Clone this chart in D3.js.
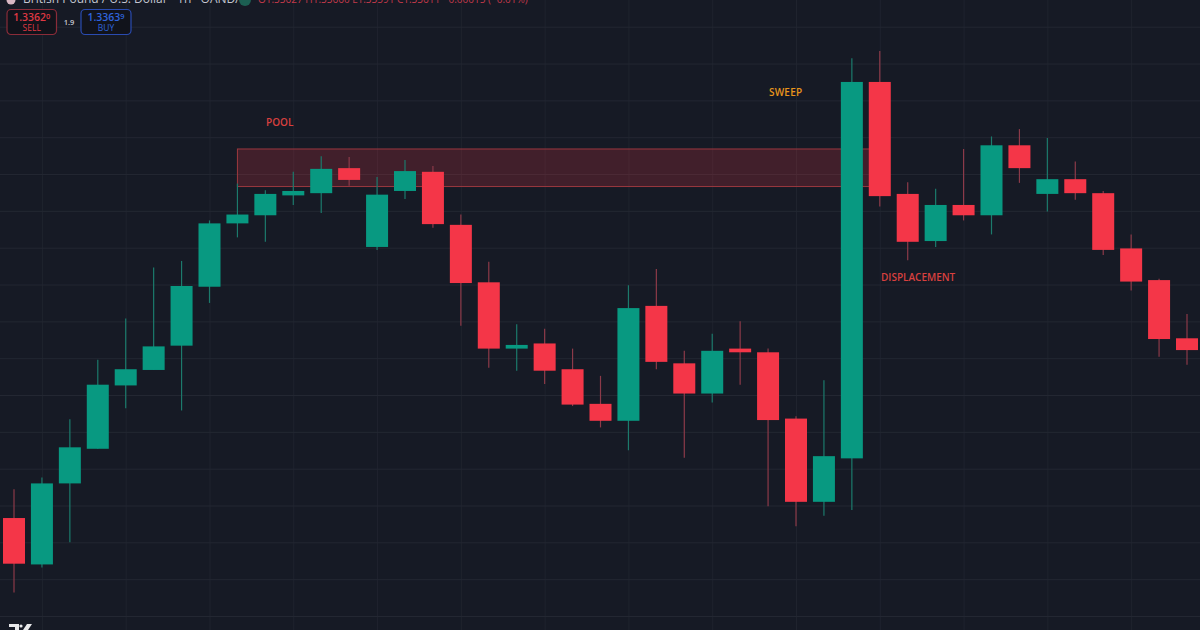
<!DOCTYPE html>
<html>
<head>
<meta charset="utf-8">
<script src="https://cdn.jsdelivr.net/npm/d3@7"></script>
<style>
  html, body { margin: 0; padding: 0; background: #161a25; overflow: hidden; }
  svg { display: block; }
  text { font-family: "Open Sans", "Noto Sans", sans-serif; }
</style>
</head>
<body>
<div id="chart"></div>
<script>
////////////////////////// Data //////////////////////////
var opens = [1.33383,1.33320,1.33430,1.33477,1.33563,1.33584,1.33617,1.33697,1.33783,1.33794,1.33821,
	1.33824,1.33858,1.33751,1.33827,1.33853,1.33781,1.33703,1.33613,1.33620,1.33585,1.33538,
	1.33515,1.33671,1.33593,1.33552,1.33613,1.33608,1.33518,1.33405,1.33464,1.33975,1.33823,
	1.33759,1.33808,1.33794,1.33889,1.33823,1.33843,1.33824,1.33749,1.33706,1.33627];
var highs = [1.33422,1.33438,1.33517,1.33598,1.33654,1.33723,1.33732,1.33787,1.33837,1.33828,1.33853,
	1.33874,1.33873,1.33846,1.33869,1.33861,1.33795,1.33731,1.33646,1.33640,1.33613,1.33576,
	1.33699,1.33721,1.33610,1.33633,1.33650,1.33613,1.33521,1.33570,1.34007,1.34017,1.33839,
	1.33830,1.33884,1.33901,1.33911,1.33899,1.33867,1.33827,1.33768,1.33708,1.33660];
var lows = [1.33282,1.33316,1.33350,1.33477,1.33532,1.33584,1.33529,1.33675,1.33764,1.33758,1.33808,
	1.33797,1.33834,1.33747,1.33816,1.33777,1.33644,1.33587,1.33583,1.33565,1.33535,1.33506,
	1.33475,1.33585,1.33465,1.33540,1.33564,1.33399,1.33372,1.33386,1.33394,1.33806,1.33733,
	1.33751,1.33787,1.33768,1.33838,1.33799,1.33815,1.33740,1.33692,1.33602,1.33591];
var closes = [1.33321,1.33430,1.33479,1.33564,1.33585,1.33616,1.33698,1.33783,1.33795,1.33823,1.33827,
	1.33857,1.33842,1.33822,1.33854,1.33782,1.33702,1.33613,1.33618,1.33583,1.33537,1.33515,
	1.33668,1.33595,1.33552,1.33610,1.33608,1.33516,1.33405,1.33467,1.33975,1.33820,1.33758,
	1.33808,1.33794,1.33889,1.33858,1.33843,1.33824,1.33747,1.33704,1.33626,1.33611];

var priceTicks = [1.3405,1.3400,1.3395,1.3390,1.3385,1.3380,1.3375,1.3370,1.3365,1.3360,1.3355,
	1.3350,1.3345,1.3340,1.3335,1.3330,1.3325];
var timeTicks = [1,4,7,10,13,16,19,22,25,28,31,34,37,40];

var poolTop = 1.33884,
	poolBottom = 1.33833,
	poolStart = 8,
	poolEnd = 31;

var symbolName = "British Pound / U.S. Dollar · 1h · OANDA";
var sellPrice = ["1.3362", "0"],
	buyPrice = ["1.3363", "9"],
	spread = "1.9";

////////////////////////// Setup //////////////////////////
var width = 1200,
	height = 630,
	bodyWidth = 22,
	green = "#089981",
	red = "#f43648",
	greenWick = "#1c7a6c",
	redWick = "#8c3a49";

var svg = d3.select("#chart").append("svg")
	.attr("width", width)
	.attr("height", height);

svg.append("rect")
	.attr("width", width)
	.attr("height", height)
	.attr("fill", "#161a25");

var x = d3.scaleLinear().domain([0, 42]).range([14, 1187]);
var y = d3.scaleLinear().domain([1.3325, 1.3405]).range([616, 26.7]);

////////////////////////// Grid //////////////////////////
var xAxis = d3.axisBottom(x).tickValues(timeTicks).tickSize(height).tickFormat("");
var yAxis = d3.axisRight(y).tickValues(priceTicks).tickSize(width).tickFormat("");

var gridX = svg.append("g").call(xAxis);
gridX.select(".domain").remove();
gridX.selectAll("line").attr("stroke", "#1f232e").attr("stroke-width", 1);

var gridY = svg.append("g").call(yAxis);
gridY.select(".domain").remove();
gridY.selectAll("line").attr("stroke", "#232732").attr("stroke-width", 1);

////////////////////////// Pool zone //////////////////////////
svg.append("rect")
	.attr("x", x(poolStart))
	.attr("y", y(poolTop))
	.attr("width", x(poolEnd) - x(poolStart))
	.attr("height", y(poolBottom) - y(poolTop))
	.attr("fill", "#f23645")
	.attr("fill-opacity", 0.2)
	.attr("stroke", "#9c383f")
	.attr("stroke-width", 1);

////////////////////////// Candles //////////////////////////
var candles = opens.map(function(o, i) {
	return {i: i, open: o, high: highs[i], low: lows[i], close: closes[i], up: closes[i] >= o};
});

var candle = svg.append("g").selectAll("g")
	.data(candles).enter().append("g");

candle.append("line")
	.attr("x1", function(d) { return x(d.i); })
	.attr("x2", function(d) { return x(d.i); })
	.attr("y1", function(d) { return y(d.high); })
	.attr("y2", function(d) { return y(d.low); })
	.attr("stroke", function(d) { return d.up ? greenWick : redWick; })
	.attr("stroke-width", 1.2);

candle.append("rect")
	.attr("x", function(d) { return x(d.i) - bodyWidth / 2; })
	.attr("y", function(d) { return y(Math.max(d.open, d.close)); })
	.attr("width", bodyWidth)
	.attr("height", function(d) { return Math.abs(y(d.open) - y(d.close)); })
	.attr("fill", function(d) { return d.up ? green : red; });

////////////////////////// Labels //////////////////////////
function label(txt, px, py, color, spacing) {
	svg.append("text")
		.attr("x", px)
		.attr("y", py)
		.attr("fill", color)
		.attr("font-size", 10)
		.attr("font-weight", 600)
		.attr("letter-spacing", spacing)
		.text(txt);
}
label("POOL", 266, 126, "#d8403f", 0);
label("SWEEP", 769, 96, "#e8951c", 0.2);
label("DISPLACEMENT", 881, 281, "#d8403f", 0);

////////////////////////// Header //////////////////////////
svg.append("circle").attr("cx", 11).attr("cy", 0).attr("r", 4.5).attr("fill", "#d9b8c4");

svg.append("text")
	.attr("x", 23)
	.attr("y", 3)
	.attr("fill", "#c4c7d0")
	.attr("font-size", 12)
	.text(symbolName);

svg.append("circle").attr("cx", 245).attr("cy", 0).attr("r", 6).attr("fill", "#1c5f52");

// last bar values
var last = candles[candles.length - 1],
	prev = candles[candles.length - 2],
	fmt = d3.format(".5f"),
	change = last.close - prev.close;

svg.append("text")
	.attr("x", 258)
	.attr("y", 3)
	.attr("fill", "#c2394a")
	.attr("font-size", 10)
	.text("O" + fmt(last.open) + " H" + fmt(last.high) + " L" + fmt(last.low) + " C" + fmt(last.close) +
		" " + fmt(change).replace("-", "−") + " (" + d3.format(".2f")(change / prev.close * 100).replace("-", "−") + "%)");

function tradeButton(px, w, price, caption, stroke, color) {
	var g = svg.append("g");
	g.append("rect")
		.attr("x", px)
		.attr("y", 9.5)
		.attr("width", w)
		.attr("height", 25)
		.attr("rx", 4)
		.attr("fill", "#11131b")
		.attr("stroke", stroke)
		.attr("stroke-width", 1.2);
	var t = g.append("text")
		.attr("x", px + w / 2)
		.attr("y", 21)
		.attr("text-anchor", "middle")
		.attr("fill", color)
		.attr("font-size", 10.5)
		.attr("font-weight", 600);
	t.append("tspan").text(price[0]);
	t.append("tspan").attr("font-size", 7.5).attr("dy", -2).text(price[1]);
	g.append("text")
		.attr("x", px + w / 2)
		.attr("y", 31)
		.attr("text-anchor", "middle")
		.attr("fill", color)
		.attr("font-size", 8.5)
		.text(caption);
}
tradeButton(7, 49.5, sellPrice, "SELL", "#8a2c39", "#de3843");
tradeButton(81, 50, buyPrice, "BUY", "#2a4bb0", "#2f63dc");

svg.append("text")
	.attr("x", 69)
	.attr("y", 24.5)
	.attr("text-anchor", "middle")
	.attr("fill", "#c8cad2")
	.attr("font-size", 7.5)
	.attr("font-weight", 600)
	.text(spread);

////////////////////////// Logo //////////////////////////
var logo = svg.append("g").attr("fill", "#e8e8ea");
logo.append("path").attr("d", "M9 624H19V630H15V627H9Z");
logo.append("circle").attr("cx", 21).attr("cy", 626).attr("r", 1.6);
logo.append("path").attr("d", "M27 624H32L28 630H23Z");
</script>
</body>
</html>
